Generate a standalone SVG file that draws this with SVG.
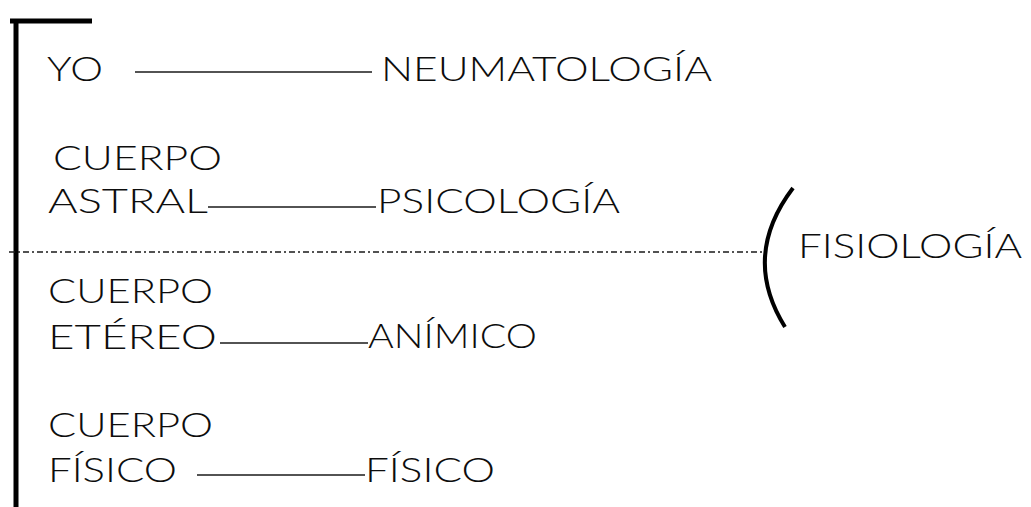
<svg xmlns="http://www.w3.org/2000/svg" width="1031" height="507" viewBox="0 0 1031 507">
<style>
.t{font-family:Lato,"Liberation Sans","DejaVu Sans",sans-serif;font-weight:300;font-size:34px;fill:#0d0d0d;}
.c{stroke:#1a1a1a;stroke-width:1.5;fill:none;}
.bar{stroke:#000;stroke-width:5;fill:none;}
</style>
<rect width="1031" height="507" fill="#fff"/>
<g id="frame">
<line class="bar" x1="10" y1="21" x2="92" y2="21"/>
<line class="bar" x1="16" y1="19" x2="16" y2="507"/>
</g>
<g id="connectors">
<line class="c" x1="135" y1="72" x2="372" y2="72"/>
<line class="c" x1="208" y1="207" x2="376" y2="207"/>
<line class="c" x1="220" y1="343" x2="368" y2="343"/>
<line class="c" x1="197" y1="475" x2="365" y2="475"/>
<line class="c" x1="9" y1="252" x2="765" y2="252" stroke-width="1.8" stroke-dasharray="6 3 2 3"/>
<path d="M793 188 Q741 256.5 785 327" stroke="#000" stroke-width="4" fill="none"/>
</g>
<g id="yo"><text class="t" x="47" y="81" textLength="56" lengthAdjust="spacingAndGlyphs">YO</text></g>
<g id="neumatologia"><text class="t" x="381" y="81" textLength="331" lengthAdjust="spacingAndGlyphs">NEUMATOLOGÍA</text></g>
<g id="cuerpo-astral">
<text class="t" x="53" y="170" textLength="169" lengthAdjust="spacingAndGlyphs">CUERPO</text>
<text class="t" x="48" y="213" textLength="160" lengthAdjust="spacingAndGlyphs">ASTRAL</text>
</g>
<g id="psicologia"><text class="t" x="377" y="213" textLength="243" lengthAdjust="spacingAndGlyphs">PSICOLOGÍA</text></g>
<g id="fisiologia"><text class="t" x="798" y="258" textLength="224" lengthAdjust="spacingAndGlyphs">FISIOLOGÍA</text></g>
<g id="cuerpo-etereo">
<text class="t" x="48" y="303" textLength="165" lengthAdjust="spacingAndGlyphs">CUERPO</text>
<text class="t" x="48" y="349" textLength="169" lengthAdjust="spacingAndGlyphs">ETÉREO</text>
</g>
<g id="animico"><text class="t" x="368" y="348" textLength="169" lengthAdjust="spacingAndGlyphs">ANÍMICO</text></g>
<g id="cuerpo-fisico">
<text class="t" x="48" y="437" textLength="165" lengthAdjust="spacingAndGlyphs">CUERPO</text>
<text class="t" x="48" y="482" textLength="129" lengthAdjust="spacingAndGlyphs">FÍSICO</text>
</g>
<g id="fisico"><text class="t" x="365" y="482" textLength="130" lengthAdjust="spacingAndGlyphs">FÍSICO</text></g>
</svg>
